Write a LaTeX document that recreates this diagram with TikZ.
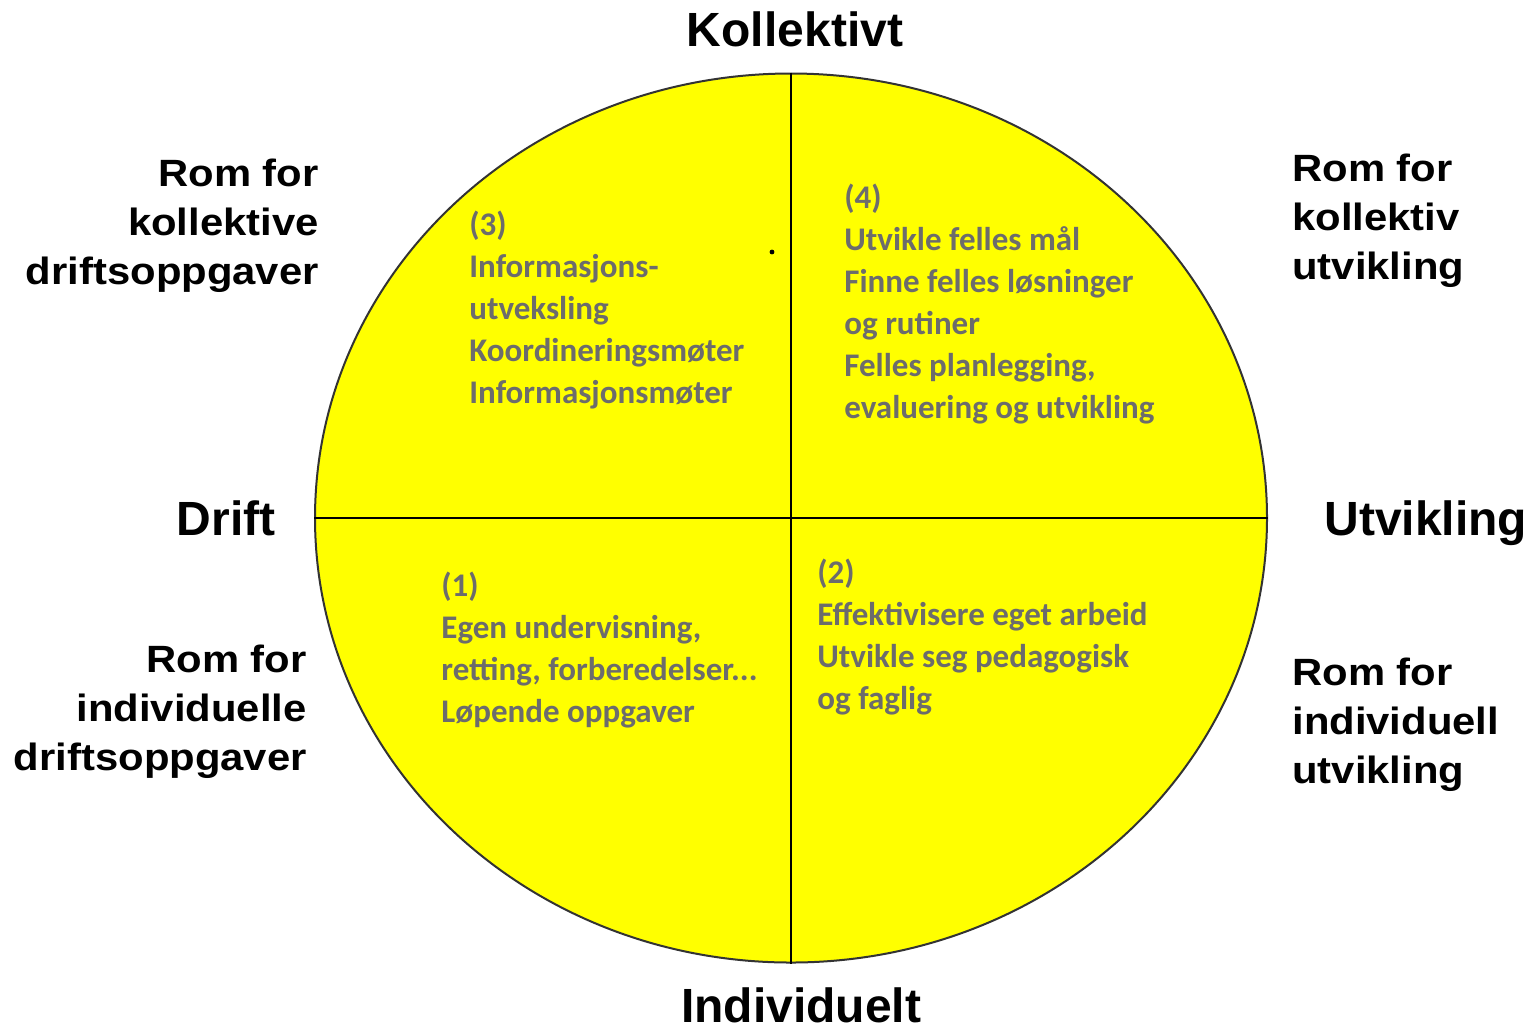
\documentclass[tikz,border=0pt]{standalone}
\usepackage{fontspec}
\usepackage{tikz}
\usetikzlibrary{positioning, shapes.geometric}
\newfontfamily\lblfont{Liberation Sans}
\newfontfamily\sidefont[FakeStretch=1.1]{Liberation Sans}
\newfontfamily\cellfont{Carlito}
\definecolor{cellgray}{RGB}{108,108,108}
\definecolor{wheelyellow}{RGB}{255,255,0}

\begin{document}
\begin{tikzpicture}[
    x=0.5pt, y=-0.5pt,
    % the big yellow wheel
    wheelshape/.style={ellipse, draw=black!80, line width=1pt, fill=wheelyellow,
        minimum width=476pt, minimum height=444.5pt, inner sep=0pt},
    % divider lines
    divider/.style={line width=1pt, black},
    % axis labels round the wheel
    axislbl/.style={font=\lblfont\bfseries\fontsize{24}{28}\selectfont,
        inner sep=0pt, text depth=0pt},
    % "Rom for ..." labels
    sidelbl/.style={font=\sidefont\bfseries\fontsize{19}{24.5}\selectfont, inner sep=0pt},
    % text inside each quadrant
    celltxt/.style={font=\cellfont\bfseries\fontsize{16.5}{21}\selectfont,
        text=cellgray, align=left, anchor=north west, inner sep=0pt}
]
    \useasboundingbox (0,0) rectangle (1534,1035);

    % wheel - reference node
    \node[wheelshape] (wheel) at (791,518) {};
    \draw[divider] (wheel.north) -- (wheel.south);
    \draw[divider] (wheel.west) -- (wheel.east);

    % axis labels - relative to the wheel
    \node[axislbl, above=13pt of wheel, xshift=2pt] (koll) {Kollektivt};
    \node[axislbl, below=12pt of wheel, xshift=5pt] (indiv) {Individuelt};
    \node[axislbl, left=19pt of wheel] (drift) {Drift};
    \node[axislbl, right=28pt of wheel] (utv) {Utvikling};

    % side labels
    \node[sidelbl, align=right, anchor=north east] (romkd) at (319,159)
        {Rom for\\kollektive\\driftsoppgaver};
    \node[sidelbl, align=left, anchor=north west] (romku) at (1292,154)
        {Rom for\\kollektiv\\utvikling};
    \node[sidelbl, align=right, anchor=north east] (romid) at (307,645)
        {Rom for\\individuelle\\driftsoppgaver};
    \node[sidelbl, align=left, anchor=north west] (romiu) at (1292,658)
        {Rom for\\individuell\\utvikling};

    % quadrant texts
    \node[celltxt] (q3) at (469,211)
        {(3)\\Informasjons-\\utveksling\\Koordineringsmøter\\Informasjonsmøter};
    \node[celltxt] (q4) at (844,184)
        {(4)\\Utvikle felles mål\\Finne felles løsninger\\og rutiner\\Felles planlegging,\\evaluering og utvikling};
    \node[celltxt] (q1) at (441,572)
        {(1)\\Egen undervisning,\\retting, forberedelser...\\Løpende oppgaver};
    \node[celltxt] (q2) at (817,559)
        {(2)\\Effektivisere eget arbeid\\Utvikle seg pedagogisk\\og faglig};

    % stray dot
    \fill[black] (772,252) circle (1.2pt);
\end{tikzpicture}
\end{document}
